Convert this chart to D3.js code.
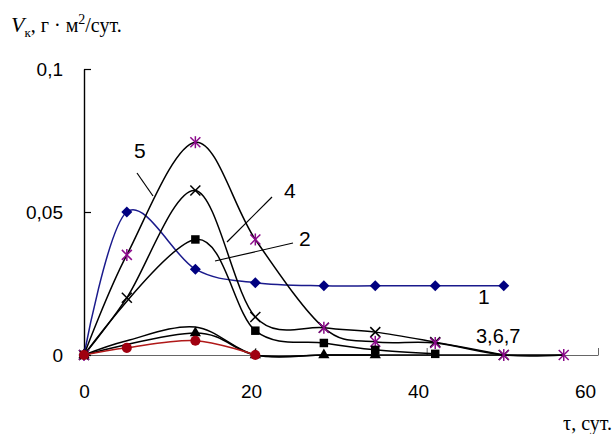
<!DOCTYPE html>
<html><head><meta charset="utf-8">
<script src="https://cdn.jsdelivr.net/npm/d3@7"></script>
<style>
html,body{margin:0;padding:0;background:#fff;}
svg{display:block;}
</style></head>
<body>
<svg id="chart" width="615" height="434"></svg>
<script>
// ---- data ----
const days = [0, 5, 13, 20, 28, 34, 41, 49, 56];
const s1 = [0, 0.050, 0.030, 0.0253, 0.0242, 0.0242, 0.0242, 0.0242, null];
const s2 = [0, null, 0.0404, 0.0085, 0.0042, 0.0018, 0.0004, null, null];
const s3 = [0, null, 0.0077, 0, 0, 0, null, null, null];
const s4 = [0, 0.020, 0.0575, 0.0133, 0.0095, 0.008, 0.0045, 0, null];
const s5 = [0, 0.035, 0.0744, 0.0404, 0.0095, 0.0046, 0.0042, 0, 0];
const s6 = [0, 0.0025, 0.005, 0, null, null, null, null, null];
const s7 = [0, 0.005, 0.0098, 0, 0, 0, 0, 0, 0];
const xTicks = [0, 20, 40, 60];
const yTicks = [0, 0.05, 0.1];
const yTickLabels = ["0", "0,05", "0,1"];
const seriesNames = ["1", "2", "4", "5", "3,6,7"];

const svg = d3.select("#chart");
const x = d3.scaleLinear().domain([0, 60]).range([84, 598]);
const y = d3.scaleLinear().domain([0, 0.1]).range([355, 69]);

// axes
const xAxis = svg.append("g").attr("transform", "translate(0,355)")
  .call(d3.axisBottom(x).tickValues(xTicks).tickSize(-7).tickSizeOuter(0).tickPadding(30));
xAxis.select(".domain").attr("stroke", "#666").attr("stroke-width", 1);
xAxis.selectAll(".tick line").attr("stroke", "#666");
xAxis.selectAll("text").attr("font-family", "Liberation Sans, Arial, sans-serif").attr("font-size", 19).attr("fill", "#000")
  .attr("dx", d => -d / 60 * 13);

const yAxis = svg.append("g").attr("transform", "translate(84,0)")
  .call(d3.axisLeft(y).tickValues(yTicks).tickSize(-7).tickSizeOuter(0).tickPadding(21)
    .tickFormat((d, i) => yTickLabels[i]));
yAxis.select(".domain").attr("stroke", "#000").attr("stroke-width", 1.4);
yAxis.selectAll(".tick line").attr("stroke", "#000").attr("stroke-width", 1.2);
yAxis.selectAll("text").attr("font-family", "Liberation Sans, Arial, sans-serif").attr("font-size", 19).attr("fill", "#000");

// axis titles
const yt = svg.append("text").attr("x", 11).attr("y", 32)
  .attr("font-family", "Liberation Serif, Times New Roman, serif").attr("font-size", 20).attr("fill", "#000");
yt.append("tspan").attr("font-style", "italic").attr("font-size", 22).text("V");
yt.append("tspan").attr("font-size", 13).attr("dy", 5).text("к");
yt.append("tspan").attr("dy", -5).text(", г · м");
yt.append("tspan").attr("font-size", 14).attr("dy", -8).text("2");
yt.append("tspan").attr("dy", 8).text("/сут.");

svg.append("text").attr("x", 612).attr("y", 430).attr("text-anchor", "end")
  .attr("font-family", "Liberation Serif, Times New Roman, serif").attr("font-size", 20).attr("fill", "#000")
  .text("τ, сут.");

// lines
const line = d3.line().x(d => x(d[0])).y(d => y(d[1])).curve(d3.curveCardinal.tension(0));
function pts(arr) { return days.map((d, i) => [d, arr[i]]).filter(p => p[1] !== null); }

const series = [
  {v: s7, color: "#000", marker: null},
  {v: s1, color: "#1a1a8c", marker: "diamond", mcolor: "#000080"},
  {v: s4, color: "#000", marker: "cross", mcolor: "#000"},
  {v: s5, color: "#000", marker: "asterisk", mcolor: "#8b0a8b"},
  {v: s2, color: "#000", marker: "square", mcolor: "#000"},
  {v: s3, color: "#000", marker: "triangle", mcolor: "#000"},
  {v: s6, color: "#b01818", marker: "circle", mcolor: "#a00010"}
];

series.forEach(s => {
  svg.append("path").datum(pts(s.v)).attr("d", line)
    .attr("fill", "none").attr("stroke", s.color).attr("stroke-width", 1.5);
});

const sym = {
  square: d3.symbol().type(d3.symbolSquare).size(72),
  triangle: d3.symbol().type(d3.symbolTriangle).size(55),
  circle: d3.symbol().type(d3.symbolCircle).size(80)
};

series.forEach(s => {
  if (!s.marker) return;
  const g = svg.append("g");
  pts(s.v).forEach(p => {
    const cx = x(p[0]), cy = y(p[1]);
    if (s.marker === "cross" || s.marker === "asterisk") {
      const r = 5;
      const mg = g.append("g").attr("transform", `translate(${cx},${cy})`)
        .attr("stroke", s.mcolor).attr("stroke-width", 1.5);
      mg.append("line").attr("x1", -r).attr("y1", -r).attr("x2", r).attr("y2", r);
      mg.append("line").attr("x1", -r).attr("y1", r).attr("x2", r).attr("y2", -r);
      if (s.marker === "asterisk") mg.append("line").attr("x1", 0).attr("y1", -r - 1).attr("x2", 0).attr("y2", r + 1);
    } else if (s.marker === "diamond") {
      const r = 5.5;
      g.append("path").attr("d", `M0,${-r}L${r},0L0,${r}L${-r},0Z`)
        .attr("transform", `translate(${cx},${cy})`).attr("fill", s.mcolor);
    } else {
      g.append("path").attr("d", sym[s.marker]()).attr("transform", `translate(${cx},${cy})`)
        .attr("fill", s.mcolor);
    }
  });
});

// curve labels and leader lines
const lab = svg.append("g").attr("font-family", "Liberation Sans, Arial, sans-serif").attr("font-size", 21).attr("fill", "#000");
lab.append("text").attr("x", 134).attr("y", 158).text(seriesNames[3]);
lab.append("text").attr("x", 284).attr("y", 198).text(seriesNames[2]);
lab.append("text").attr("x", 299).attr("y", 246).text(seriesNames[1]);
lab.append("text").attr("x", 478).attr("y", 304).text(seriesNames[0]);
lab.append("text").attr("x", 476).attr("y", 343).attr("font-size", 20).text(seriesNames[4]);
const leaders = [[137, 173, 153, 196], [272, 197, 227, 242], [293, 243, 215, 261]];
leaders.forEach(l => svg.append("line").attr("x1", l[0]).attr("y1", l[1]).attr("x2", l[2]).attr("y2", l[3])
  .attr("stroke", "#000").attr("stroke-width", 1.2));
</script>
</body></html>
